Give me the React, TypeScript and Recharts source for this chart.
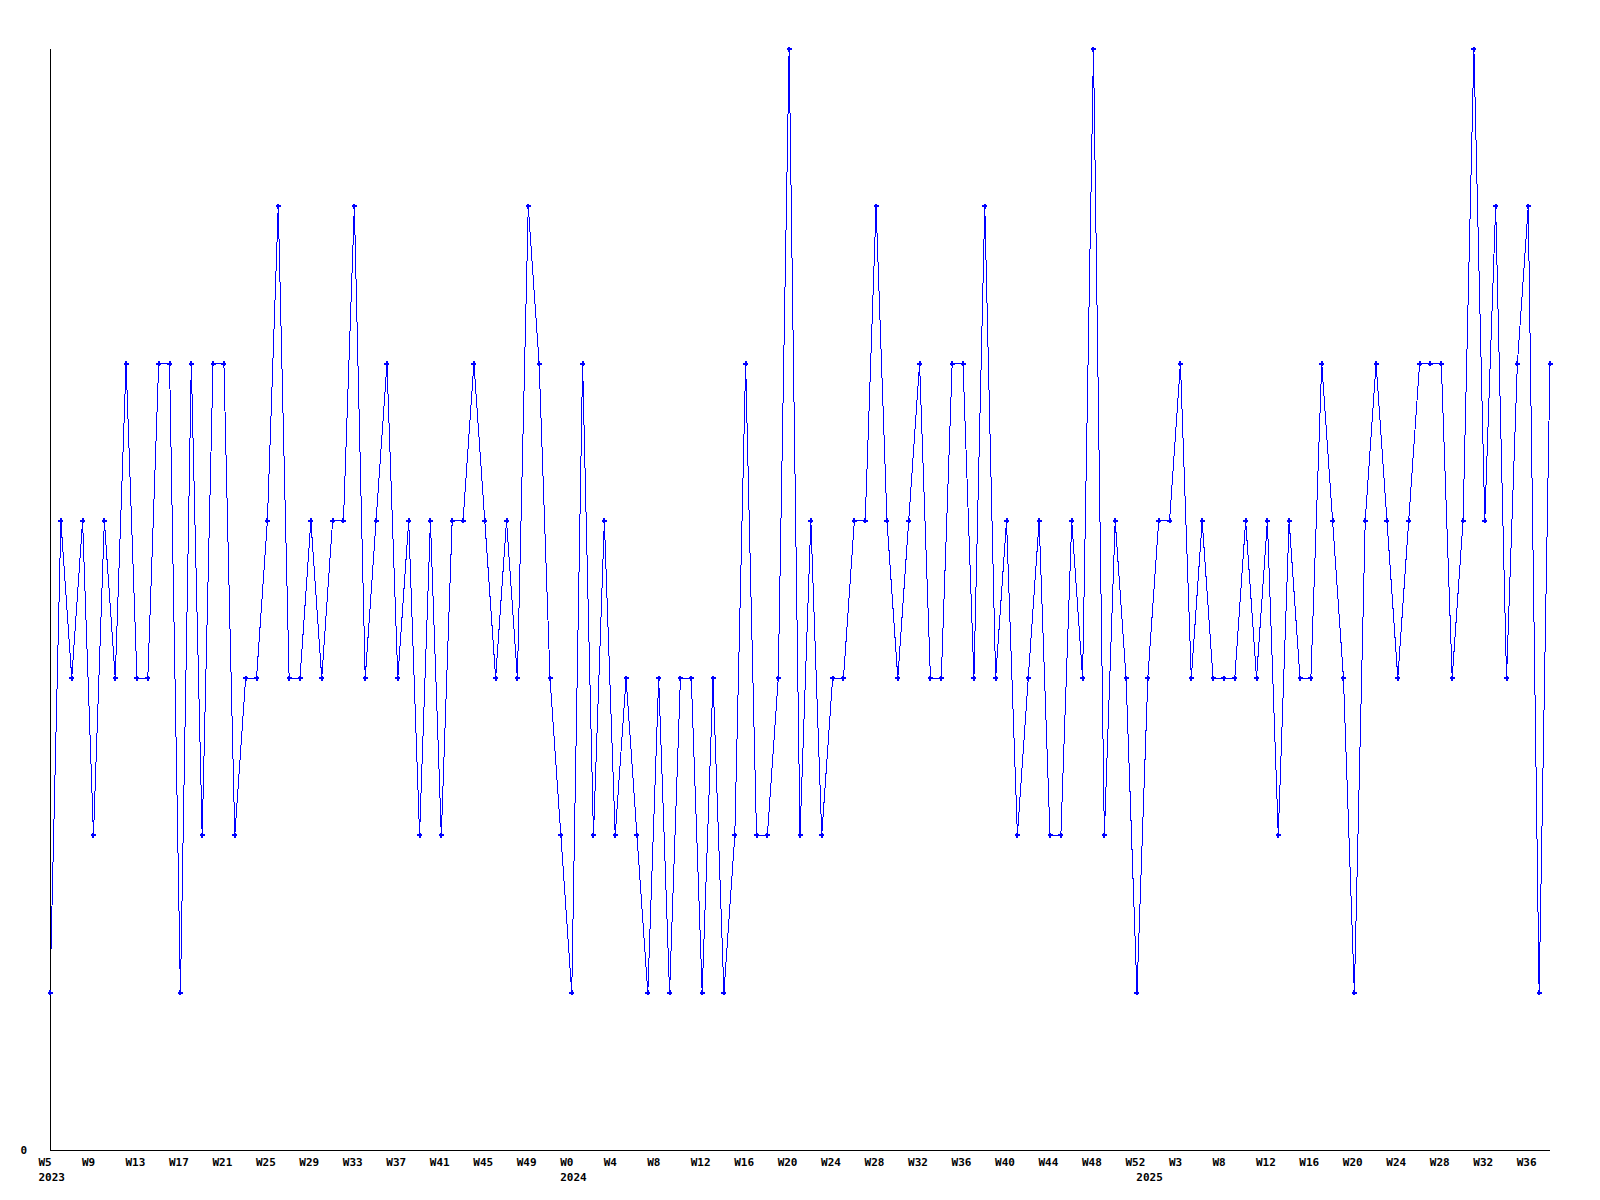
import React from 'react'
import { LineChart, Line, XAxis, YAxis } from 'recharts'

// weekly values, W5 2023 .. W38 2025
const values = [
  1, 4, 3, 4, 2, 4, 3, 5, 3, 3, 5, 5, 1, 5, 2, 5, 5, 2, 3, 3, 4, 6, 3, 3, 4, 3, 4, 4, 6, 3, 4, 5, 3, 4, 2, 4,
  2, 4, 4, 5, 4, 3, 4, 3, 6, 5, 3, 2, 1, 5, 2, 4, 2, 3, 2, 1, 3, 1, 3, 3, 1, 3, 1, 2, 5, 2, 2, 3, 7, 2, 4,
  2, 3, 3, 4, 4, 6, 4, 3, 4, 5, 3, 3, 5, 5, 3, 6, 3, 4, 2, 3, 4, 2, 2, 4, 3, 7, 2, 4, 3, 1, 3, 4, 4, 5, 3, 4,
  3, 3, 3, 4, 3, 4, 2, 4, 3, 3, 5, 4, 3, 1, 4, 5, 4, 3, 4, 5, 5, 5, 3, 4, 7, 4, 6, 3, 5, 6, 1, 5,
]

// one label every 4th week
const weekLabels = [
  'W5', 'W9', 'W13', 'W17', 'W21', 'W25', 'W29', 'W33', 'W37', 'W41', 'W45', 'W49',
  'W0', 'W4', 'W8', 'W12', 'W16', 'W20', 'W24', 'W28', 'W32', 'W36', 'W40', 'W44', 'W48', 'W52',
  'W3', 'W8', 'W12', 'W16', 'W20', 'W24', 'W28', 'W32', 'W36',
]
const yearAt = [0, 48, 101]
const yearLabels = ['2023', '2024', '2025']

const data = values.map((v, i) => ({ i, v }))
const weekTicks = weekLabels.map((_, k) => k * 4)

const FONT = '"DejaVu Sans Mono", monospace'

const WeekTick = ({ x, y, payload }: any) => (
  <text x={x - 11.5} y={y + 16} fontFamily={FONT} fontSize={11} fontWeight="bold" fill="#000">
    {weekLabels[payload.value / 4]}
  </text>
)

const YearTick = ({ x, y, payload }: any) => (
  <text x={x - 11.5} y={y + 11} fontFamily={FONT} fontSize={11} fontWeight="bold" fill="#000">
    {yearLabels[yearAt.indexOf(payload.value)]}
  </text>
)

const ZeroTick = ({ y }: any) => (
  <text x={20.5} y={y + 4} fontFamily={FONT} fontSize={11} fontWeight="bold" fill="#000">
    0
  </text>
)

// small bold plus marker
const Cross = ({ cx, cy }: any) => (
  <g fill="#0000ff" shapeRendering="crispEdges">
    <rect x={cx - 2.5} y={cy - 1} width={5} height={2} />
    <rect x={cx - 1} y={cy - 2.5} width={2} height={5} />
  </g>
)

export default function App() {
  return (
    <div style={{ position: 'absolute', left: 0, top: 0, background: '#fff' }}>
      <LineChart width={1600} height={1200} data={data} margin={{ top: 49, right: 50, left: 0, bottom: 0 }}>
        <XAxis
          dataKey="i"
          type="number"
          domain={[0, values.length - 1]}
          ticks={weekTicks}
          interval={0}
          tick={<WeekTick />}
          tickLine={false}
          tickSize={0}
          tickMargin={0}
          height={20}
          axisLine={{ stroke: '#000', shapeRendering: 'crispEdges' }}
        />
        <XAxis
          xAxisId="year"
          dataKey="i"
          type="number"
          domain={[0, values.length - 1]}
          ticks={yearAt}
          interval={0}
          tick={<YearTick />}
          tickLine={false}
          tickSize={0}
          tickMargin={0}
          height={30}
          axisLine={false}
        />
        <YAxis
          domain={[0, 7]}
          ticks={[0]}
          width={50}
          tick={<ZeroTick />}
          tickLine={false}
          tickSize={0}
          axisLine={{ stroke: '#000', shapeRendering: 'crispEdges' }}
        />
        <Line
          dataKey="v"
          type="linear"
          stroke="#0000ff"
          strokeWidth={1}
          shapeRendering="crispEdges"
          dot={<Cross />}
          activeDot={false}
          isAnimationActive={false}
        />
      </LineChart>
    </div>
  )
}
